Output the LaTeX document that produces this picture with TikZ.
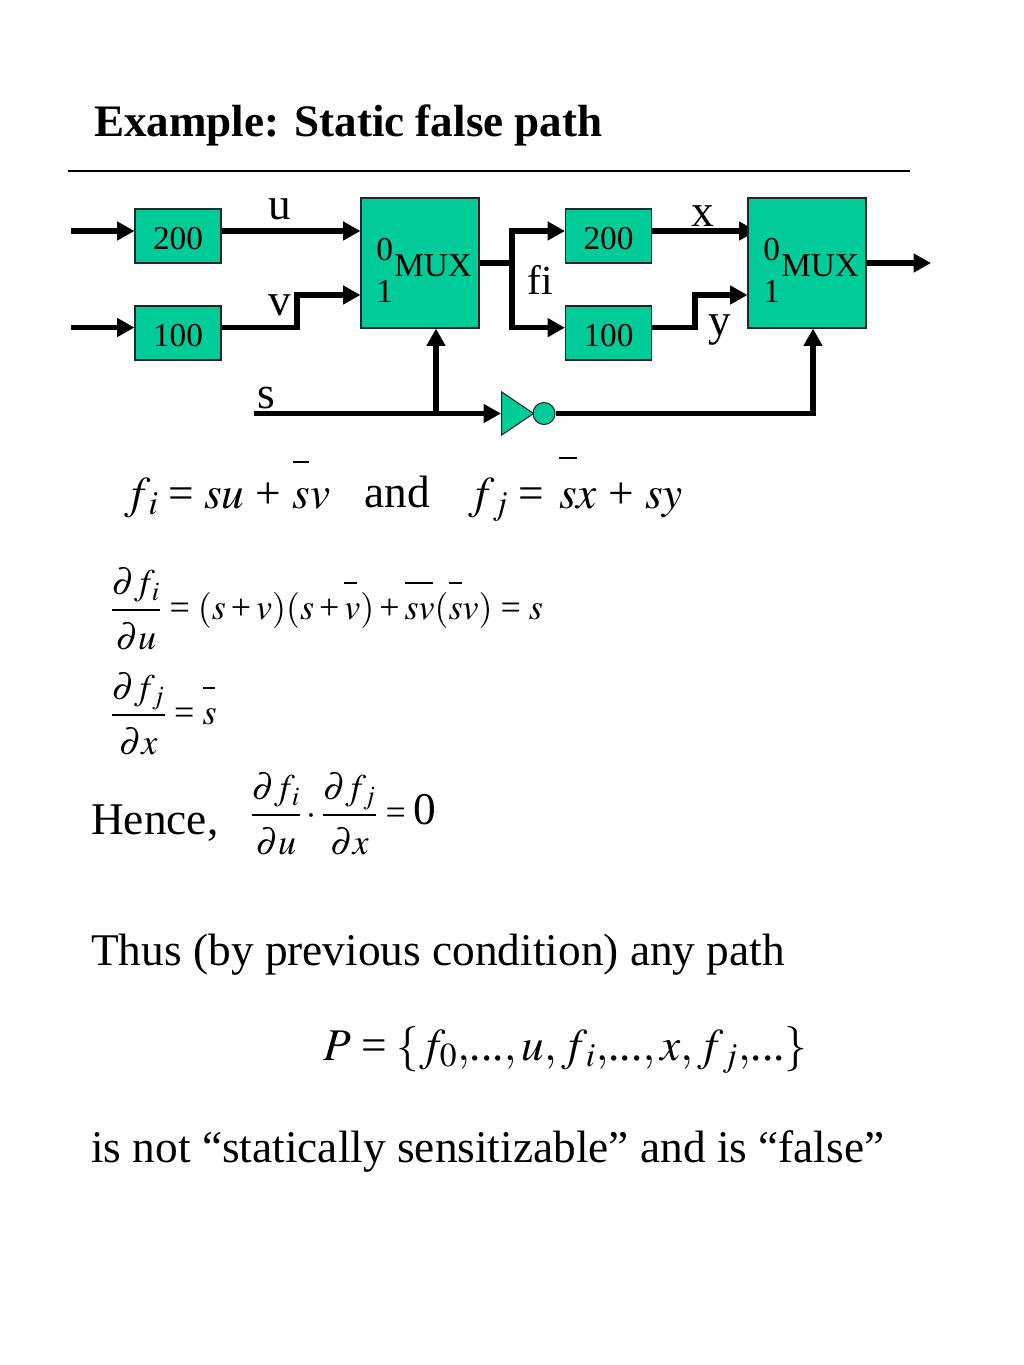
\documentclass[tikz,border=0pt]{standalone}
\usepackage{amsmath}
\usepackage{mathptmx}
\usepackage[no-math]{fontspec}
\setmainfont{Liberation Serif}
\usetikzlibrary{arrows.meta,shapes.geometric,backgrounds}
\definecolor{muxgreen}{RGB}{0,204,153}
\newcommand{\hibar}[3]{\rlap{\raisebox{#1}{\rule{#2}{.045em}}}#3}
\newcommand{\EQ}{\mathrel{\text{=}}}
\newcommand{\PL}{\mathbin{\text{+}}}
\newcommand{\PLL}{\mskip2mu\PL\mskip2mu}
\newcommand{\bigtxt}{\fontsize{34}{41}\selectfont}
\newcommand{\eqtxt}{\fontsize{27}{33}\selectfont}
\newcommand{\dn}{\rule{0pt}{.95em}}
\tikzset{
  /tikz/.cd,
  delay/.style={draw=black!85,line width=.8pt,fill=muxgreen,inner sep=0pt,minimum width=64.5pt,minimum height=40.5pt,text height=20pt,text depth=0pt,font=\fontsize{25}{30}\selectfont},
  mux/.style={draw=black!85,line width=.8pt,fill=muxgreen,inner sep=0pt,minimum width=88.5pt,minimum height=97.5pt},
  gate/.style={draw=black!85,line width=.8pt,fill=muxgreen,inner sep=0pt},
  muxtext/.style={anchor=base west,inner sep=0pt,font=\fontsize{25}{30}\selectfont},
  wire/.style={line width=4pt,-{Triangle[length=13pt,width=13.5pt]}},
  plain/.style={line width=4pt},
  txt/.style={anchor=base west,inner sep=0pt,font=\bigtxt},
  eqn/.style={anchor=base west,inner sep=0pt,font=\eqtxt}
}

\begin{document}
\begin{tikzpicture}[x=.75pt,y=-.75pt]
  \useasboundingbox (0,0) rectangle (1024,1365);

  \node[txt,font=\fontsize{33.8}{41}\selectfont\bfseries] (title) at (94,136) {Example: Static false path};
  \draw[line width=1.5pt] (68,171) -- (910,171);

  \node[delay] (boxu) at (178,236) {200};
  \node[delay] (boxv) at (178,333) {100};
  \node[delay] (boxx) at (608.5,236) {200};
  \node[delay] (boxy) at (608.5,333) {100};
  \node[mux] (muxa) at (420,263) {};
  \node[mux] (muxb) at (807,263) {};
  \node[gate,isosceles triangle,isosceles triangle apex angle=68,isosceles triangle stretches,minimum width=32.5pt,minimum height=24pt,anchor=lower side] (inv) at (501,413.5) {};
  \node[gate,circle,minimum size=16.5pt] (bub) at (544,413.5) {};

  \node[muxtext] (zeroa) at (376,260) {0};
  \node[muxtext] (onea) at (376,302) {1};
  \node[muxtext] (namea) at (394,276) {MUX};
  \node[muxtext] (zerob) at (763,260) {0};
  \node[muxtext] (oneb) at (763,302) {1};
  \node[muxtext] (nameb) at (781,276) {MUX};

  \node[txt] (lblu) at (268,219) {u};
  \node[txt] (lblv) at (268,315) {v};
  \node[txt] (lbls) at (257,408) {s};
  \node[txt] (lblx) at (691,226) {x};
  \node[txt] (lbly) at (708,335) {y};
  \node[txt,font=\fontsize{31}{38}\selectfont] (lblf) at (527,294) {f{}i};

  \coordinate (ina) at (71,231);
  \coordinate (inb) at (71,327.5);
  \coordinate (ins) at (254,413.5);
  \coordinate (tap) at (436,413.5);
  \coordinate (fork) at (512,263);
  \coordinate (stepv) at (297,295);
  \coordinate (stepy) at (695,295);
  \coordinate (outb) at (931,263);

  \begin{pgfonlayer}{background}
    \draw[wire] (ina) -- (ina -| boxu.west);
    \draw[wire] (inb) -- (inb -| boxv.west);
    \draw[wire] ([yshift=3.75pt]boxu.east) -- ([yshift=24pt]muxa.west);
    \draw[wire] ([yshift=4pt]boxv.east) -| (stepv) -- ([yshift=-24pt]muxa.west);
    \draw[plain] (muxa.east) -- (fork);
    \draw[wire] (fork) |- ([yshift=3.75pt]boxx.west);
    \draw[wire] (fork) |- ([yshift=4pt]boxy.west);
    \draw[wire] ([yshift=3.75pt]boxx.east) -- ([xshift=6.75pt,yshift=24pt]muxb.west);
    \draw[wire] ([yshift=4pt]boxy.east) -| (stepy) -- ([yshift=-24pt]muxb.west);
    \draw[wire] (muxb.east) -- (outb);
    \draw[wire] (ins) -- (ins -| inv.lower side);
    \draw[wire] (tap) -- (tap |- muxa.south);
    \draw[wire] (bub.east) -| ([xshift=4.5pt]muxb.south);
  \end{pgfonlayer}

  % equations
  \node[txt] (eqi) at (124,508) {$f_{\,i} \EQ su \PLL \hibar{1em}{.36em}{s}v$};
  \node[txt] (andw) at (364,507) {and};
  \node[txt] (eqj) at (468,508) {$f_{\,j} \EQ\mskip2mu \hibar{1.08em}{.4em}{s}x \PLL sy$};
  \node[eqn] (dfi) at (110,619) {$\dfrac{\partial f_{\mkern1mu i}}{\dn\partial u} \EQ (s\PL v)(s\PL \hibar{.97em}{.36em}{v}) \PL \hibar{.97em}{.8em}{s}v(\hibar{.97em}{.36em}{s}v) \EQ s$};
  \node[eqn] (dfj) at (110,724) {$\dfrac{\partial f_{\mkern1mu j}}{\dn\partial x} \EQ \hibar{.97em}{.36em}{s}$};
  \node[txt] (hence) at (91,834) {Hence,};
  \node[eqn] (dprod) at (250,824) {$\dfrac{\partial f_{\mkern1mu i}}{\dn\partial u}\cdot\dfrac{\partial f_{\mkern1mu j}}{\dn\partial x} \EQ \text{\bigtxt 0}$};
  \node[txt] (thus) at (91,965) {Thus (by previous condition) any path};
  \node[txt] (peq) at (323,1060) {$P \EQ \{f_{0}{,}\text{...}{,}\,u{,}\,f_{\,i}{,}\text{...}{,}\,x{,}\,f_{\,j}{,}\text{...}\}$};
  \node[txt] (isnot) at (91,1162) {is not “statically sensitizable” and is “false”};
\end{tikzpicture}
\end{document}
